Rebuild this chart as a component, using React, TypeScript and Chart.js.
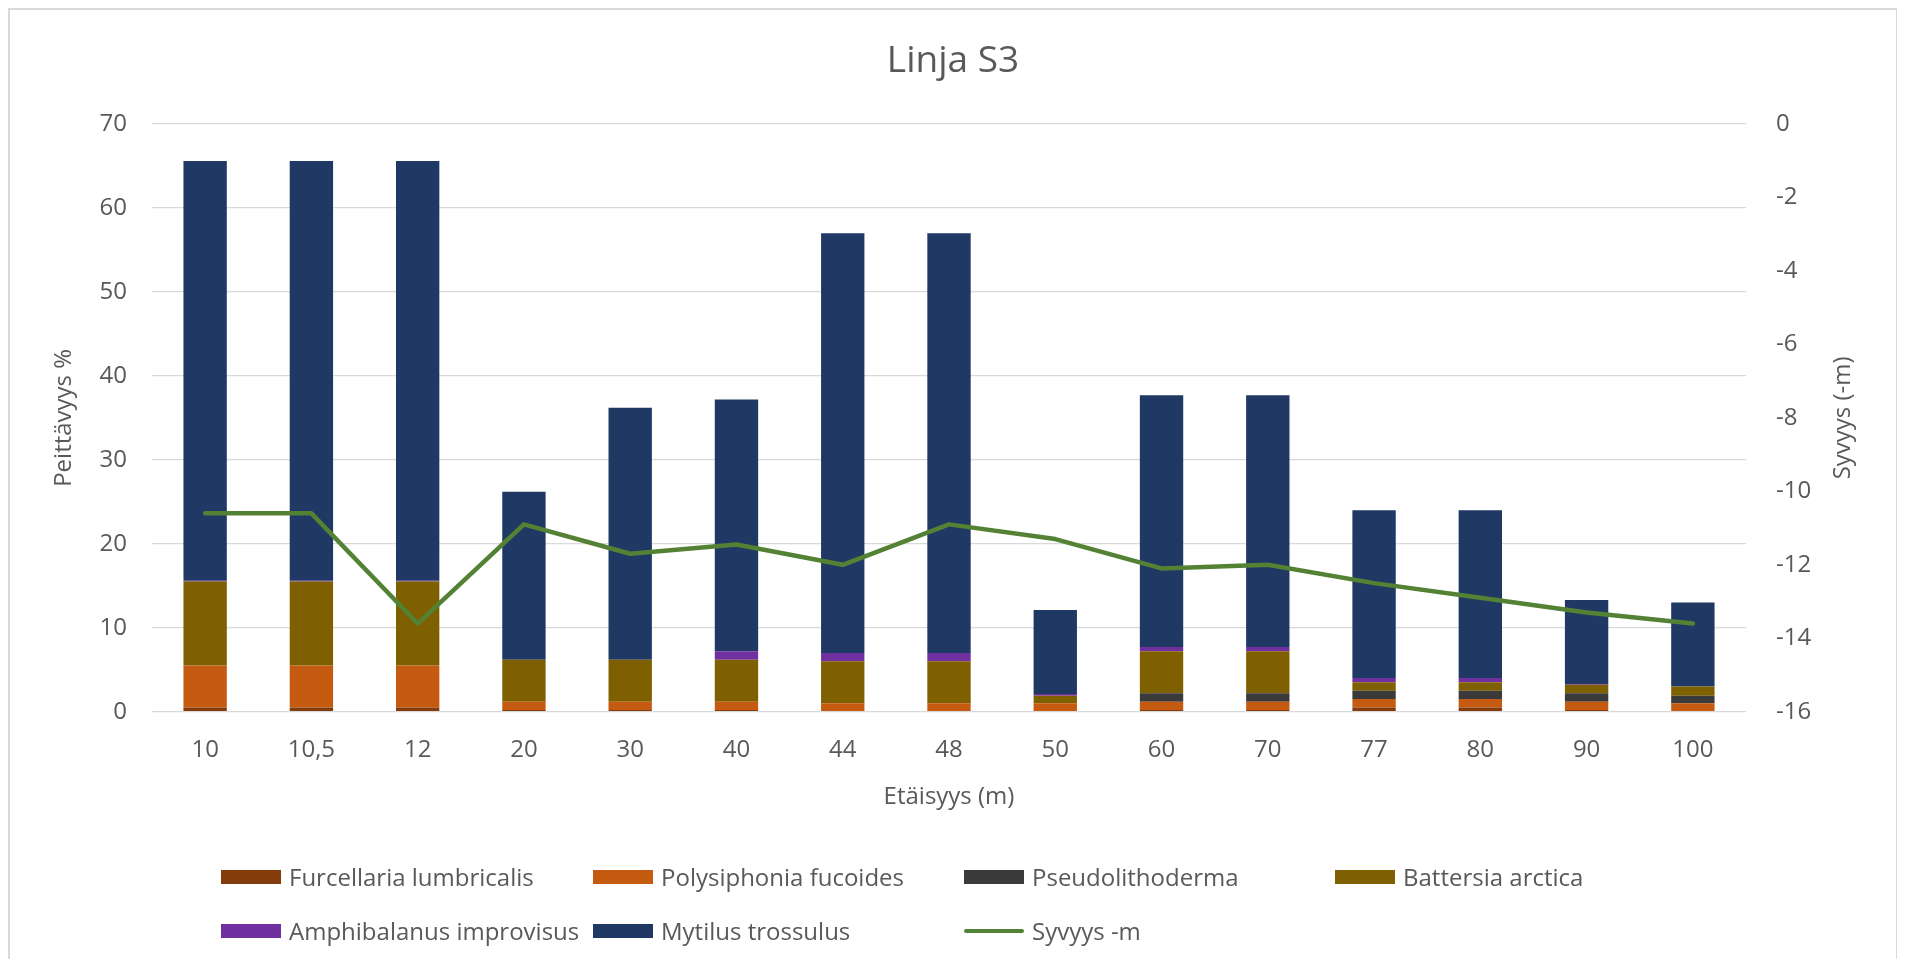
import React, { useEffect, useRef } from "react";
import { Chart, registerables } from "chart.js";

Chart.register(...registerables);

// ---- Data ----
const categories = ["10", "10,5", "12", "20", "30", "40", "44", "48", "50", "60", "70", "77", "80", "90", "100"];
const furcellaria = [0.5, 0.5, 0.5, 0.2, 0.2, 0.2, 0, 0, 0, 0.2, 0.2, 0.5, 0.5, 0.2, 0];
const polysiphonia = [5, 5, 5, 1, 1, 1, 1, 1, 1, 1, 1, 1, 1, 1, 1];
const pseudolithoderma = [0, 0, 0, 0, 0, 0, 0, 0, 0, 1, 1, 1, 1, 1, 0.9];
const battersia = [10, 10, 10, 5, 5, 5, 5, 5, 0.9, 5, 5, 1, 1, 1, 1.1];
const amphibalanus = [0.1, 0.1, 0.1, 0, 0, 1, 1, 1, 0.2, 0.5, 0.5, 0.5, 0.5, 0.1, 0];
const mytilus = [50, 50, 50, 20, 30, 30, 50, 50, 10, 30, 30, 20, 20, 10, 10];
const depth = [-10.6, -10.6, -13.6, -10.9, -11.7, -11.45, -12.0, -10.9, -11.3, -12.1, -12.0, -12.5, -12.9, -13.3, -13.6];

const leftTicks = { min: 0, max: 70, step: 10 };
const rightTicks = { min: -16, max: 0, step: 2 };

const titleText = "Linja S3";
const xTitle = "Etäisyys (m)";
const yTitle = "Peittävyys %";
const y1Title = "Syvyys (-m)";
const lineLabel = "Syvyys -m";

// ---- Styles ----
const FONT = "'Open Sans', 'Noto Sans', sans-serif";
const TEXT = "#595959";
const GRID = "#d9d9d9";
const LINE_COLOR = "#548235";

const barSeries = [
  { label: "Furcellaria lumbricalis", color: "#843C0C", data: furcellaria },
  { label: "Polysiphonia fucoides", color: "#C55A11", data: polysiphonia },
  { label: "Pseudolithoderma", color: "#3A3A3A", data: pseudolithoderma },
  { label: "Battersia arctica", color: "#7F6000", data: battersia },
  { label: "Amphibalanus improvisus", color: "#7030A0", data: amphibalanus },
  { label: "Mytilus trossulus", color: "#1F3864", data: mytilus },
];

const rightTitlePlugin = {
  id: "rightTitle",
  afterDraw(chart: any) {
    const s = chart.scales.y1;
    const ctx = chart.ctx;
    ctx.save();
    ctx.translate(s.left + 97, (s.top + s.bottom) / 2);
    ctx.rotate(-Math.PI / 2);
    ctx.font = `24px ${FONT}`;
    ctx.fillStyle = TEXT;
    ctx.textAlign = "center";
    ctx.textBaseline = "middle";
    ctx.fillText(y1Title, 0, 0);
    ctx.restore();
  },
};

export default function App() {
  const canvasRef = useRef<HTMLCanvasElement>(null);

  useEffect(() => {
    const datasets: any[] = barSeries.map((s) => ({
      type: "bar",
      label: s.label,
      data: s.data,
      backgroundColor: s.color,
      borderWidth: 0,
      yAxisID: "y",
      stack: "cover",
      barPercentage: 0.408,
      categoryPercentage: 1,
      order: 1,
    }));
    datasets.push({
      type: "line",
      label: lineLabel,
      data: depth,
      borderColor: LINE_COLOR,
      backgroundColor: LINE_COLOR,
      borderWidth: 4.5,
      pointRadius: 0,
      tension: 0,
      borderJoinStyle: "round",
      borderCapStyle: "round",
      yAxisID: "y1",
      order: 0,
    });

    const chart = new Chart(canvasRef.current!, {
      type: "bar",
      data: { labels: categories, datasets },
      plugins: [rightTitlePlugin],
      options: {
        animation: false,
        responsive: true,
        maintainAspectRatio: false,
        layout: { padding: { left: 0, right: 0, top: 0, bottom: 137.3 } },
        plugins: {
          legend: { display: false },
          tooltip: { enabled: false },
          title: {
            display: true,
            text: titleText,
            color: TEXT,
            font: { family: FONT, size: 37, weight: "normal" },
            padding: { top: 29.4, bottom: 40.2 },
          },
        },
        scales: {
          x: {
            stacked: true,
            grid: { display: false, drawTicks: false },
            border: { display: false },
            ticks: { color: TEXT, font: { family: FONT, size: 24 }, padding: 23.6, maxRotation: 0, autoSkip: false },
            title: {
              display: true,
              text: xTitle,
              color: TEXT,
              font: { family: FONT, size: 24 },
              padding: { top: 0, bottom: 10.5 },
            },
            afterFit: (scale: any) => {
              scale.height = 110;
            },
          },
          y: {
            type: "linear",
            position: "left",
            stacked: true,
            min: leftTicks.min,
            max: leftTicks.max,
            grid: { color: GRID, lineWidth: 1.3, drawTicks: false },
            border: { display: false },
            ticks: { stepSize: leftTicks.step, color: TEXT, font: { family: FONT, size: 24 }, padding: 25 },
            title: {
              display: true,
              text: yTitle,
              color: TEXT,
              font: { family: FONT, size: 24 },
              padding: { top: 40, bottom: 0 },
            },
            afterFit: (scale: any) => {
              scale.width = 142;
            },
          },
          y1: {
            type: "linear",
            position: "right",
            min: rightTicks.min,
            max: rightTicks.max,
            grid: { drawOnChartArea: false, drawTicks: false },
            border: { display: false },
            ticks: { stepSize: rightTicks.step, color: TEXT, font: { family: FONT, size: 24 }, padding: 30 },
            afterFit: (scale: any) => {
              scale.width = 150;
            },
          },
        },
      } as any,
    });
    return () => chart.destroy();
  }, []);

  const colX = [211, 583, 954, 1325];
  const rowY = [867, 920.8];
  const legendEntries: { label: string; color: string; line?: boolean }[] = [
    ...barSeries.map((s) => ({ label: s.label, color: s.color })),
    { label: lineLabel, color: LINE_COLOR, line: true },
  ];

  return (
    <div
      style={{
        position: "relative",
        width: 1890,
        height: 951,
        boxSizing: "border-box",
        border: "2px solid #d9d9d9",
        borderBottom: "none",
        background: "#fff",
        fontFamily: FONT,
      }}
    >
      <div style={{ position: "absolute", left: 0, top: 0, width: 1886, height: 949 }}>
        <canvas ref={canvasRef} />
      </div>
      {legendEntries.map((e, i) => {
        const row = i < 4 ? 0 : 1;
        const col = i < 4 ? i : i - 4;
        return (
          <div
            key={e.label}
            style={{
              position: "absolute",
              left: colX[col],
              top: rowY[row] - 15,
              height: 30,
              display: "flex",
              alignItems: "center",
              whiteSpace: "nowrap",
            }}
          >
            {e.line ? (
              <span
                style={{
                  display: "inline-block",
                  width: 60,
                  height: 4.5,
                  borderRadius: 3,
                  background: e.color,
                  marginRight: 8,
                }}
              />
            ) : (
              <span
                style={{
                  display: "inline-block",
                  width: 60,
                  height: 14,
                  background: e.color,
                  marginRight: 8,
                }}
              />
            )}
            <span style={{ fontSize: 24, lineHeight: "30px", color: TEXT }}>{e.label}</span>
          </div>
        );
      })}
    </div>
  );
}
